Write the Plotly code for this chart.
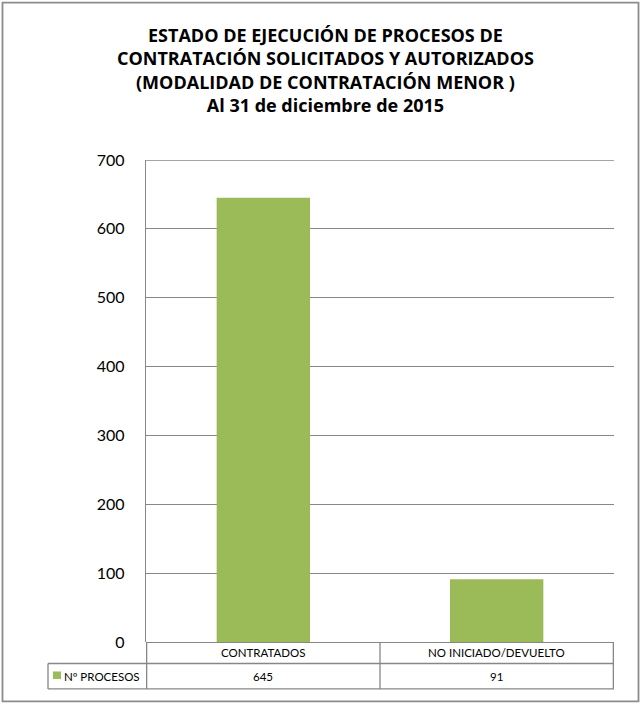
import plotly.graph_objects as go

categories = ["CONTRATADOS", "NO INICIADO/DEVUELTO"]
values = [645, 91]
series_name = "Nº PROCESOS"
tick_values = [0, 100, 200, 300, 400, 500, 600, 700]
title_lines = [
    "ESTADO DE EJECUCIÓN DE PROCESOS DE",
    "CONTRATACIÓN SOLICITADOS Y AUTORIZADOS",
    "(MODALIDAD DE CONTRATACIÓN MENOR )",
    "Al 31 de diciembre de 2015",
]

BAR = "#9BBB59"
GRID = "#878787"
FONT = "Lato"
TITLE_FONT = "Open Sans"

W, H = 642, 704
L, R, T, B = 146, 614, 160, 642.5
pw, ph = R - L, B - T

def px(x):
    return (x - L) / pw

def py(y):
    return (B - y) / ph

fig = go.Figure()
fig.add_trace(go.Bar(x=categories, y=values, name=series_name,
                     marker=dict(color=BAR, line=dict(width=0)),
                     showlegend=False, hoverinfo="skip"))

shapes = []
line = dict(color=GRID, width=1.3)
# outer border
shapes.append(dict(type="rect", xref="paper", yref="paper",
                   x0=px(2.5), x1=px(638.5), y0=py(702), y1=py(2.5),
                   line=dict(color="#8c8c8c", width=1.8), layer="below"))
# top gridline at axis max
shapes.append(dict(type="line", xref="paper", yref="y",
                   x0=0, x1=1, y0=tick_values[-1], y1=tick_values[-1],
                   line=line))
# table horizontals
for yy in [664, 689.5]:
    shapes.append(dict(type="line", xref="paper", yref="paper",
                       x0=px(48), x1=1, y0=py(yy), y1=py(yy), line=line))
# table verticals (category boundaries)
for xb in [-0.5, 0.5, 1.5]:
    shapes.append(dict(type="line", xref="x", yref="paper",
                       x0=xb, x1=xb, y0=py(642.5), y1=py(689.5), line=line))
shapes.append(dict(type="line", xref="paper", yref="paper",
                   x0=px(48), x1=px(48), y0=py(664), y1=py(689.5), line=line))
# legend key
shapes.append(dict(type="rect", xref="paper", yref="paper",
                   x0=px(53), x1=px(61), y0=py(679.5), y1=py(672),
                   line=dict(width=0), fillcolor=BAR))

annotations = []
annotations.append(dict(xref="paper", yref="paper", x=px(325), y=py(21),
                        xanchor="center", yanchor="top", showarrow=False,
                        text="<br>".join("<b>%s</b>" % t for t in title_lines),
                        align="center",
                        font=dict(family=TITLE_FONT, size=18, color="#000")))
for c, v in zip(categories, values):
    annotations.append(dict(xref="x", yref="paper", x=c, y=py(653.5),
                            text=c, showarrow=False, yanchor="middle",
                            font=dict(family=FONT, size=11.5, color="#000")))
    annotations.append(dict(xref="x", yref="paper", x=c, y=py(677),
                            text=str(v), showarrow=False, yanchor="middle",
                            font=dict(family=FONT, size=11.5, color="#000")))
annotations.append(dict(xref="paper", yref="paper", x=px(62), y=py(677),
                        text=series_name, showarrow=False, xanchor="left",
                        yanchor="middle",
                        font=dict(family=FONT, size=11.5, color="#000")))

fig.update_layout(
    width=W, height=H,
    margin=dict(l=L, r=W - R, t=T, b=H - B, pad=0),
    paper_bgcolor="white", plot_bgcolor="white",
    bargap=0.6,
    font=dict(family=FONT, color="#000"),
    shapes=shapes, annotations=annotations,
    xaxis=dict(showticklabels=False, showgrid=False, zeroline=False,
               showline=False, ticks=""),
    yaxis=dict(range=[0, 700], tickvals=tick_values, showgrid=True,
               gridcolor=GRID, gridwidth=1.3, showline=True,
               linecolor=GRID, linewidth=1.3, zeroline=True,
               zerolinecolor=GRID, zerolinewidth=1.3,
               ticks="", ticklabelstandoff=17,
               tickfont=dict(family=FONT, size=16, color="#000")),
)
fig.write_html("out.html", config={"displayModeBar": False},
               post_script="document.body.style.margin='0';document.body.style.padding='0';")
